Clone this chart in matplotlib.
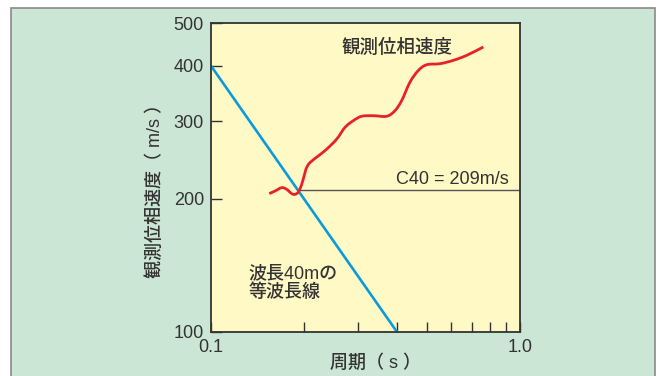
import numpy as np
import matplotlib.pyplot as plt
from matplotlib.patches import Rectangle, PathPatch
from matplotlib.path import Path

plt.rcParams['font.family'] = ['Liberation Sans', 'Noto Sans CJK JP']

# observed phase velocity curve (period s, velocity m/s)
period = [0.1544, 0.1611, 0.1694, 0.1758, 0.1824, 0.1870, 0.1917, 0.1966,
          0.2015, 0.2040, 0.2091, 0.2225, 0.2368, 0.2552, 0.2715, 0.2887,
          0.3074, 0.3351, 0.3703, 0.3938, 0.4141, 0.4406, 0.4689, 0.4989,
          0.5510, 0.6084, 0.6723, 0.7607]
velocity = [205.6, 208.4, 212.1, 210.2, 205.6, 204.8, 207.3, 215.8,
            229.5, 235.5, 241.7, 250.2, 259.2, 273.2, 290.4, 300.6,
            307.6, 308.5, 307.6, 316.7, 333.8, 367.5, 390.5, 402.3,
            404.5, 411.6, 422.5, 441.3]

# equal wavelength line, 40 m
wl_period = [0.1, 0.4]
wl_velocity = [400, 100]

c40 = 209
c40_period = [40 / c40, 1.0]

yticks = [100, 200, 300, 400, 500]
xminor = [0.2, 0.3, 0.4, 0.5, 0.6, 0.7, 0.8, 0.9]

txt = '#333333'


def smooth_path(xs, ys):
    # catmull-rom through the points, as bezier segments in log-log space
    p = np.log10(np.column_stack([xs, ys]))
    verts = [p[0]]
    codes = [Path.MOVETO]
    n = len(p)
    for i in range(n - 1):
        p0 = p[max(i - 1, 0)]
        p1 = p[i]
        p2 = p[i + 1]
        p3 = p[min(i + 2, n - 1)]
        verts += [p1 + (p2 - p0) / 6, p2 - (p3 - p1) / 6, p2]
        codes += [Path.CURVE4] * 3
    return Path(10 ** np.array(verts), codes)


fig = plt.figure(figsize=(6.6, 3.76), dpi=100, facecolor='white')
fig.patches.append(Rectangle((11 / 660, -0.1), 644 / 660, 1.1 - 8 / 376,
                             transform=fig.transFigure, facecolor='#cce6d5',
                             edgecolor='#8a8a8a', linewidth=1.2, zorder=-10))

ax = fig.add_axes([211 / 660, 1 - 332 / 376, 309 / 660, 309 / 376])
ax.set_facecolor('#fff9c6')
ax.set_xscale('log')
ax.set_yscale('log')
ax.set_xlim(0.1, 1.0)
ax.set_ylim(100, 500)

ax.plot(wl_period, wl_velocity, color='#0a9bdb', lw=1.9, solid_capstyle='butt')
ax.plot(c40_period, [c40, c40], color='#555555', lw=1.0)
ax.add_patch(PathPatch(smooth_path(period, velocity), facecolor='none',
                       edgecolor='#e8202a', lw=2.0, capstyle='butt',
                       joinstyle='round', zorder=3))

ax.set_yticks(yticks)
ax.set_yticklabels([str(v) for v in yticks])
ax.yaxis.set_minor_locator(plt.NullLocator())
ax.set_xticks([0.1, 1.0])
ax.set_xticklabels(['0.1', '1.0'])
ax.set_xticks(xminor, minor=True)
ax.xaxis.set_minor_formatter(plt.NullFormatter())
ax.tick_params(which='both', direction='in', colors=txt, labelsize=13)
ax.tick_params(axis='y', length=8, width=1.0, pad=5)
ax.tick_params(axis='x', which='both', length=7, width=1.0, pad=5)
for s in ax.spines.values():
    s.set_color('#333333')
    s.set_linewidth(1.3)

ax.text(0.424, 0.919, '観測位相速度', transform=ax.transAxes, fontsize=13.3,
        color=txt, ha='left', va='center', fontweight='medium')
ax.text(0.964, 0.492, 'C40 = 209m/s', transform=ax.transAxes, fontsize=13,
        color=txt, ha='right', va='center')
ax.text(0.12, 0.19, '波長40mの', transform=ax.transAxes, fontsize=13,
        color=txt, ha='left', va='center', fontweight='medium')
ax.text(0.12, 0.128, '等波長線', transform=ax.transAxes, fontsize=13,
        color=txt, ha='left', va='center', fontweight='medium')

fig.text(155 / 660, 1 - 187 / 376, '観測位相速度（ m/s ）', rotation=90,
         fontsize=13, color=txt, ha='center', va='center', fontweight='medium')
fig.text(375 / 660, 1 - 363 / 376, '周期（ s ）', fontsize=13, color=txt,
         ha='center', va='center', fontweight='medium')

fig.savefig('out.png', dpi=100, facecolor=fig.get_facecolor())
